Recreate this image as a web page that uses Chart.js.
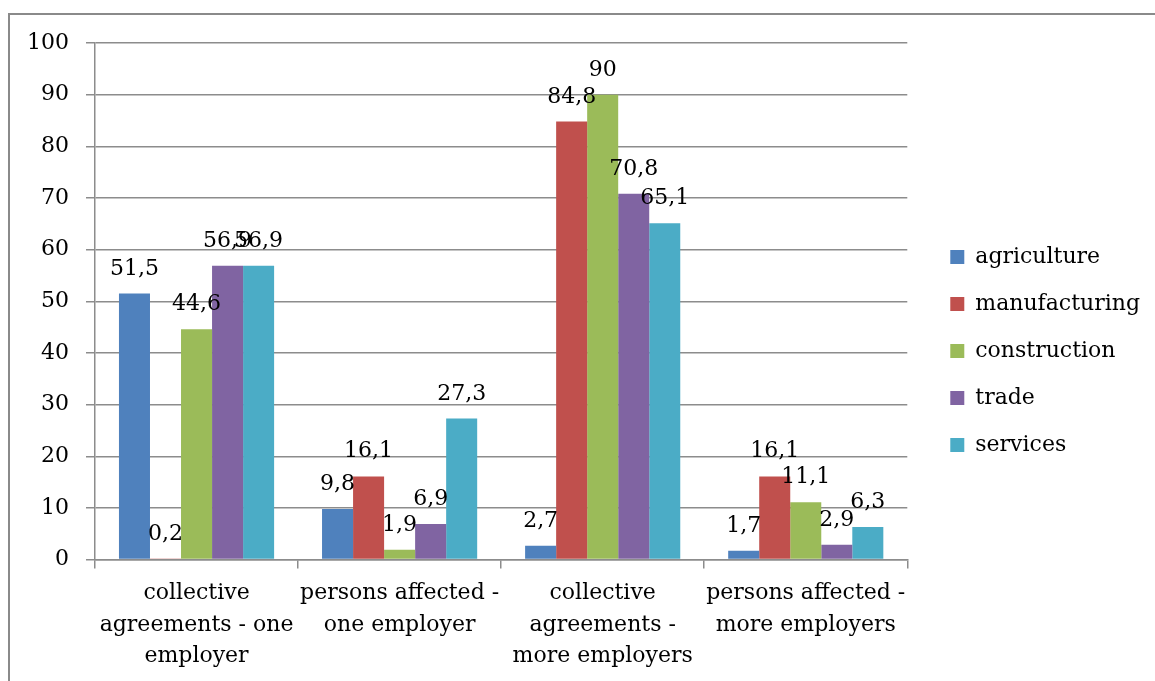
<!DOCTYPE html>
<html>
<head>
<meta charset="utf-8">
<script src="https://cdn.jsdelivr.net/npm/chart.js@4"></script>
<style>
  html, body { margin: 0; padding: 0; background: #fff; overflow: hidden; }
  #frame {
    position: absolute; left: 8px; top: 13px; width: 1300px; height: 800px;
    border-left: 2px solid #8a8a8a; border-top: 2px solid #8a8a8a;
  }
  #wrap { position: absolute; left: 0; top: 0; width: 1155px; height: 681px; }
</style>
</head>
<body>
<div id="frame"></div>
<div id="wrap"><canvas id="chart"></canvas></div>
<script>
const categories = [
  ["collective", "agreements - one", "employer"],
  ["persons affected -", "one employer"],
  ["collective", "agreements -", "more employers"],
  ["persons affected -", "more employers"]
];
const agriculture   = [51.5, 9.8, 2.7, 1.7];
const manufacturing = [0.2, 16.1, 84.8, 16.1];
const construction  = [44.6, 1.9, 90, 11.1];
const trade         = [56.9, 6.9, 70.8, 2.9];
const services      = [56.9, 27.3, 65.1, 6.3];
const yTicks = [0, 10, 20, 30, 40, 50, 60, 70, 80, 90, 100];

const FONT = "'DejaVu Serif', serif";
const FS = 22;
const GRID = "#8c8c8c";

function comma(v){ return String(v).replace(".", ","); }

// value labels above every bar, decimal comma
const barLabels = {
  id: "barLabels",
  afterDatasetsDraw(chart){
    const ctx = chart.ctx;
    ctx.save();
    ctx.font = FS + "px " + FONT;
    ctx.fillStyle = "#000";
    ctx.textAlign = "center";
    ctx.textBaseline = "alphabetic";
    chart.data.datasets.forEach((ds, i)=>{
      chart.getDatasetMeta(i).data.forEach((bar, j)=>{
        ctx.fillText(comma(ds.data[j]), bar.x, bar.y - 19);
      });
    });
    ctx.restore();
  }
};

// legend sits a little higher than the plot's middle
const legendNudge = {
  id: "legendNudge",
  afterLayout(chart){
    const lg = chart.legend;
    if (!lg) return;
    lg.top -= 11;
    lg.bottom -= 11;
  }
};

new Chart(document.getElementById("chart"), {
  type: "bar",
  data: {
    labels: categories,
    datasets: [
      { label: "agriculture",   data: agriculture,   backgroundColor: "#4F81BD" },
      { label: "manufacturing", data: manufacturing, backgroundColor: "#C0504D" },
      { label: "construction",  data: construction,  backgroundColor: "#9BBB59" },
      { label: "trade",         data: trade,         backgroundColor: "#8064A2" },
      { label: "services",      data: services,      backgroundColor: "#4BACC6" }
    ]
  },
  options: {
    animation: false,
    responsive: true,
    maintainAspectRatio: false,
    categoryPercentage: 0.764,
    barPercentage: 1,
    layout: { padding: { left: 0, top: 43, right: 5, bottom: 0 } },
    plugins: {
      tooltip: { enabled: false },
      legend: {
        position: "right",
        maxWidth: 300,
        labels: {
          boxWidth: 14, boxHeight: 14, padding: 25,
          color: "#000",
          font: { family: FONT, size: FS }
        }
      }
    },
    scales: {
      x: {
        grid: { drawOnChartArea: false, color: GRID, lineWidth: 1.5, tickLength: 9 },
        border: { color: GRID, width: 1.5 },
        ticks: { color: "#000", padding: 9, maxRotation: 0, font: { family: FONT, size: FS, lineHeight: 1.43 } }
      },
      y: {
        min: 0, max: 100,
        afterBuildTicks(scale){ scale.ticks = yTicks.map(v=>({ value: v })); },
        afterFit(scale){ scale.width = 95; },
        grid: { color: GRID, lineWidth: 1.5, tickLength: 9 },
        border: { color: GRID, width: 1.5 },
        ticks: { color: "#000", padding: 17, font: { family: FONT, size: FS } }
      },
      // empty axis: keeps a gap between the plot and the legend
      gap: {
        type: "linear",
        position: "right",
        afterFit(scale){ scale.width = 18; },
        grid: { display: false },
        border: { display: false },
        ticks: { display: false }
      }
    }
  },
  plugins: [barLabels, legendNudge]
});
</script>
</body>
</html>
